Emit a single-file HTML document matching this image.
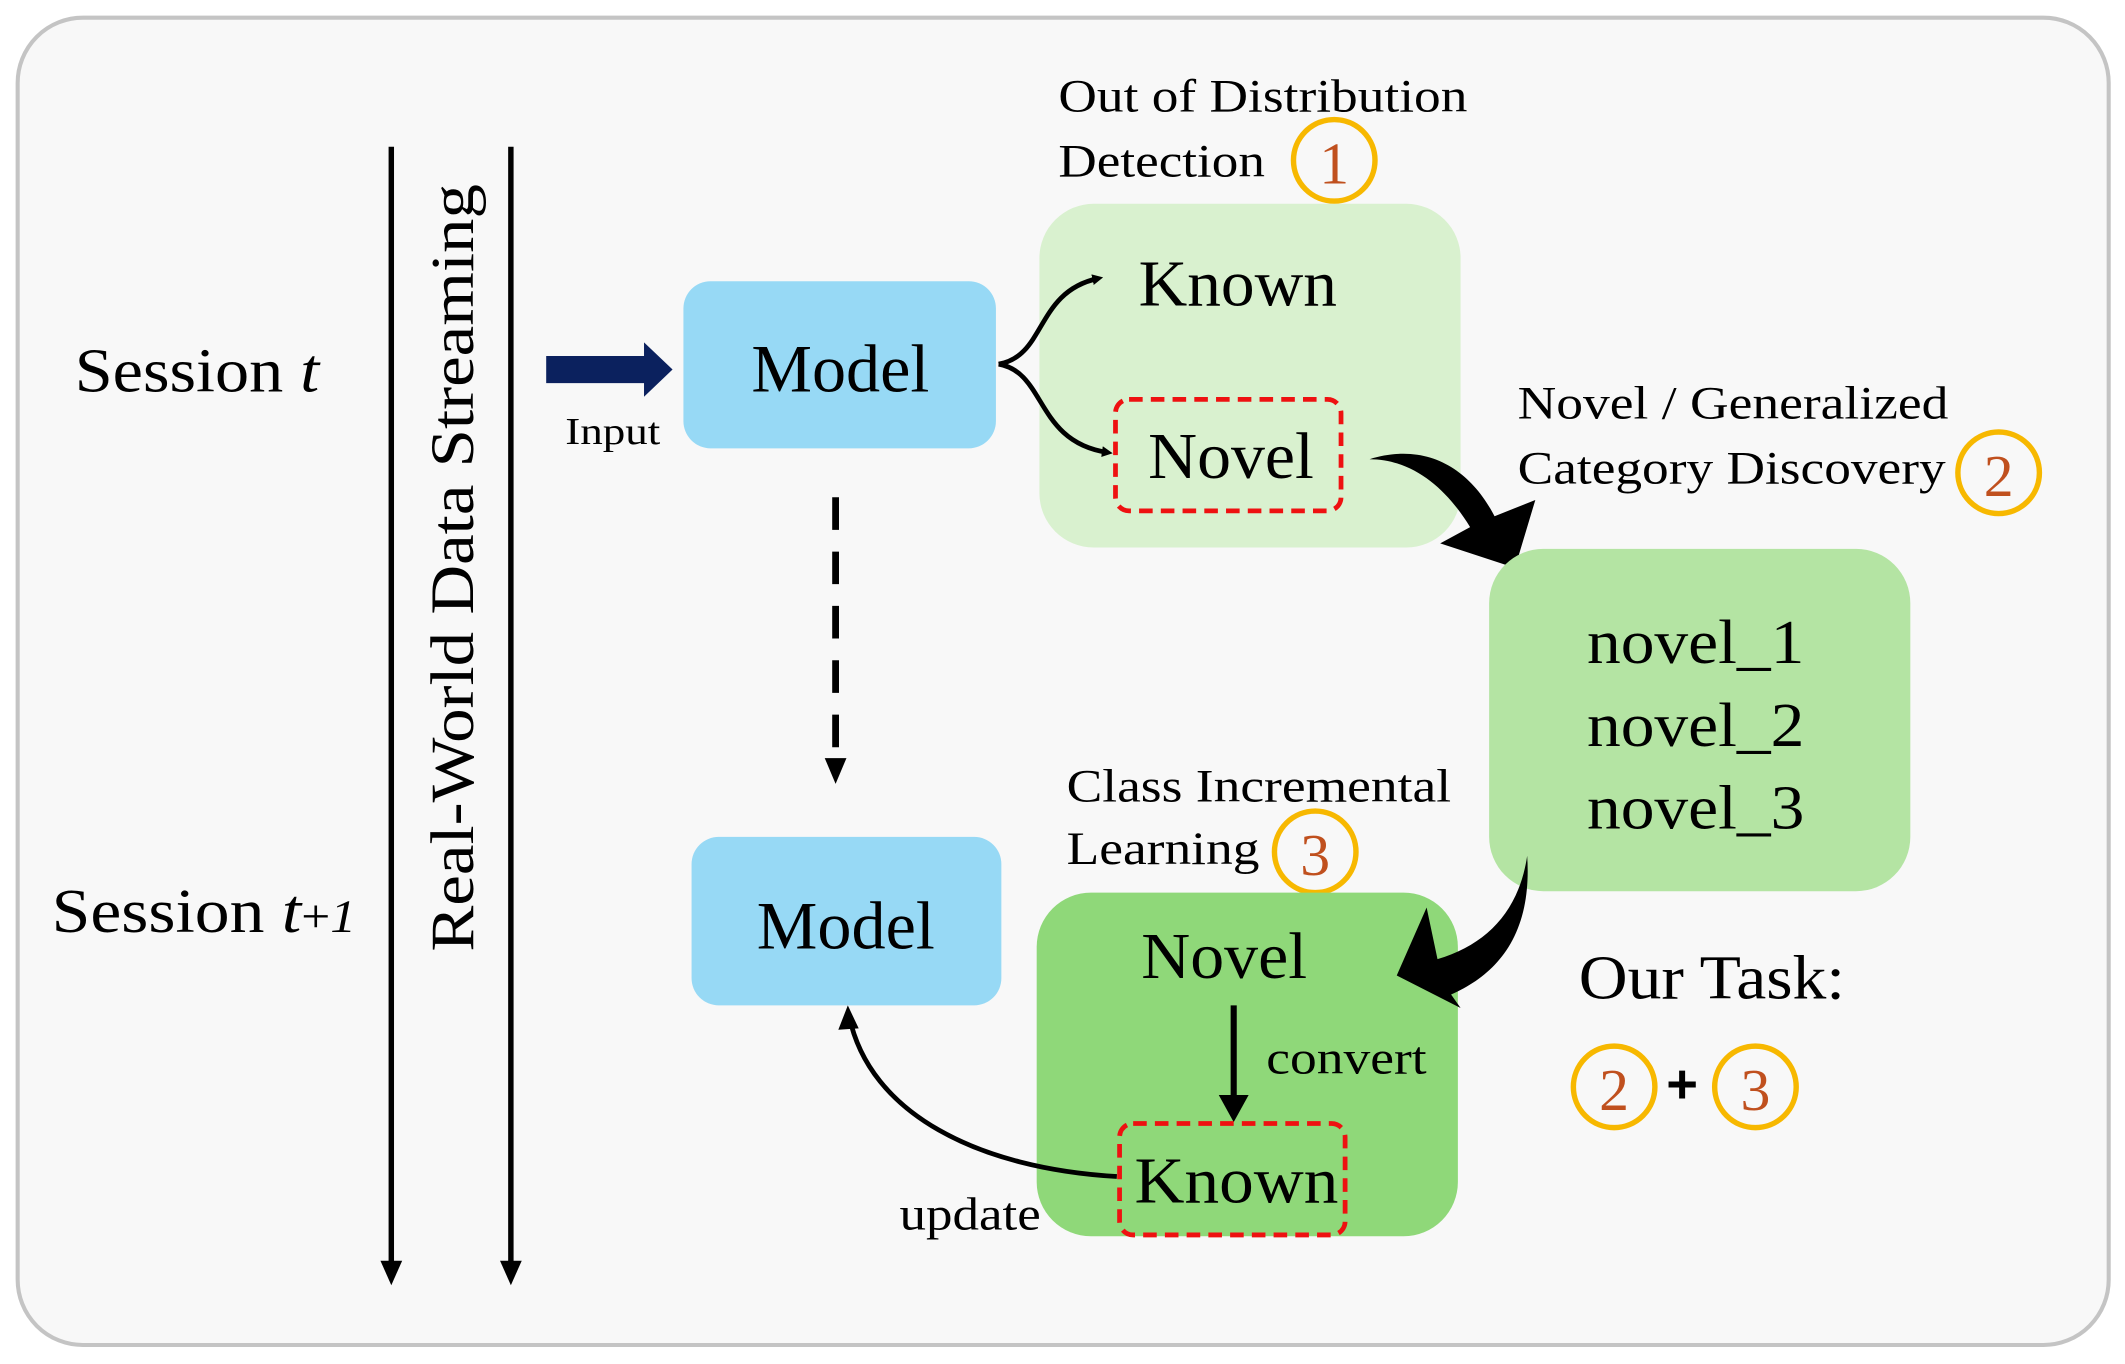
<!DOCTYPE html>
<html><head><meta charset="utf-8"><style>
html,body{margin:0;padding:0;background:#fff;}
svg{display:block;}
text{font-family:"Liberation Serif",serif;fill:#000;}
</style></head><body>
<svg width="2125" height="1364" viewBox="0 0 1564 1004" preserveAspectRatio="none" xmlns="http://www.w3.org/2000/svg">
<defs>
<marker id="ah" markerWidth="8" markerHeight="8" refX="4" refY="4" orient="auto" markerUnits="userSpaceOnUse" viewBox="0 0 8 8"><path d="M0,0 L8,4 L0,8 z" fill="#000"/></marker>
</defs>
<rect x="13" y="13" width="1539" height="977" rx="48" fill="#f8f8f8" stroke="#c4c4c4" stroke-width="3"/>
<line x1="288" y1="108" x2="288" y2="930" stroke="#000" stroke-width="4"/>
<path d="M280,928 L296,928 L288,946 z" fill="#000"/>
<line x1="376" y1="108" x2="376" y2="930" stroke="#000" stroke-width="4"/>
<path d="M368,928 L384,928 L376,946 z" fill="#000"/>
<text transform="translate(348,418) rotate(-90)" font-size="45" text-anchor="middle" textLength="565" lengthAdjust="spacingAndGlyphs">Real-World Data Streaming</text>
<text x="55" y="288" font-size="46" textLength="180" lengthAdjust="spacingAndGlyphs">Session <tspan font-style="italic">t</tspan></text>
<text x="38" y="686" font-size="46" textLength="224" lengthAdjust="spacingAndGlyphs">Session <tspan font-style="italic">t</tspan><tspan font-size="34">+</tspan><tspan font-size="34" font-style="italic">1</tspan></text>
<path d="M402,262 L474,262 L474,252 L495,272 L474,292 L474,282 L402,282 z" fill="#0b215e"/>
<text x="416" y="327" font-size="28" textLength="70" lengthAdjust="spacingAndGlyphs">Input</text>
<rect x="503" y="207" width="230" height="123" rx="20" fill="#97d9f5"/>
<text x="553" y="288" font-size="50" textLength="131" lengthAdjust="spacingAndGlyphs">Model</text>
<rect x="765" y="150" width="310" height="253" rx="40" fill="#d9f1cf"/>
<text x="838" y="225" font-size="48" textLength="146" lengthAdjust="spacingAndGlyphs">Known</text>
<rect x="821" y="294" width="166" height="82" rx="10" fill="none" stroke="#ee1111" stroke-width="3.5" stroke-dasharray="10,6"/>
<text x="845" y="352" font-size="48" textLength="122" lengthAdjust="spacingAndGlyphs">Novel</text>
<path d="M735,268 C770,262 762,215 808,205" fill="none" stroke="#000" stroke-width="3.5" marker-end="url(#ah)"/>
<path d="M735,268 C770,274 762,325 815,333" fill="none" stroke="#000" stroke-width="3.5" marker-end="url(#ah)"/>
<text x="779" y="82" font-size="34" textLength="301" lengthAdjust="spacingAndGlyphs">Out of Distribution</text>
<text x="779" y="130" font-size="34" textLength="152" lengthAdjust="spacingAndGlyphs">Detection</text>
<circle cx="982" cy="118" r="30" fill="none" stroke="#f7b800" stroke-width="4"/>
<text x="982" y="135" font-size="44" text-anchor="middle" style="fill:#c0501e">1</text>
<path d="M1008,338 C1050,325 1082,345 1100,380 L1130,368 L1115,418 L1060,400 L1082,388 C1065,360 1040,338 1008,338 z" fill="#000"/>
<text x="1117" y="308" font-size="34" textLength="317" lengthAdjust="spacingAndGlyphs">Novel / Generalized</text>
<text x="1117" y="356" font-size="34" textLength="315" lengthAdjust="spacingAndGlyphs">Category Discovery</text>
<circle cx="1471" cy="348" r="30" fill="none" stroke="#f7b800" stroke-width="4"/>
<text x="1471" y="365" font-size="44" text-anchor="middle" style="fill:#c0501e">2</text>
<rect x="1096" y="404" width="310" height="252" rx="40" fill="#b4e4a3"/>
<text x="1168" y="488" font-size="46" textLength="160" lengthAdjust="spacingAndGlyphs">novel_1</text>
<text x="1168" y="549" font-size="46" textLength="160" lengthAdjust="spacingAndGlyphs">novel_2</text>
<text x="1168" y="610" font-size="46" textLength="160" lengthAdjust="spacingAndGlyphs">novel_3</text>
<line x1="615" y1="366" x2="615" y2="558" stroke="#000" stroke-width="5" stroke-dasharray="24,16"/>
<path d="M607,558 L623,558 L615,577 z" fill="#000"/>
<rect x="509" y="616" width="228" height="124" rx="20" fill="#97d9f5"/>
<text x="557" y="698" font-size="50" textLength="131" lengthAdjust="spacingAndGlyphs">Model</text>
<text x="785" y="590" font-size="34" textLength="283" lengthAdjust="spacingAndGlyphs">Class Incremental</text>
<text x="785" y="636" font-size="34" textLength="142" lengthAdjust="spacingAndGlyphs">Learning</text>
<circle cx="968" cy="627" r="30" fill="none" stroke="#f7b800" stroke-width="4"/>
<text x="968" y="644" font-size="44" text-anchor="middle" style="fill:#c0501e">3</text>
<rect x="763" y="657" width="310" height="253" rx="40" fill="#8fd879"/>
<path d="M1124,630 C1128,690 1100,718 1068,732 L1075,742 L1028,718 L1050,668 L1058,706 C1095,695 1118,670 1124,630 z" fill="#000"/>
<text x="840" y="720" font-size="48" textLength="122" lengthAdjust="spacingAndGlyphs">Novel</text>
<line x1="908" y1="740" x2="908" y2="808" stroke="#000" stroke-width="4.5"/>
<path d="M897,806 L919,806 L908,826 z" fill="#000"/>
<text x="932" y="790" font-size="34" textLength="118" lengthAdjust="spacingAndGlyphs">convert</text>
<rect x="824" y="827" width="166" height="82" rx="10" fill="none" stroke="#ee1111" stroke-width="3.5" stroke-dasharray="10,6"/>
<text x="835" y="885" font-size="48" textLength="150" lengthAdjust="spacingAndGlyphs">Known</text>
<path d="M822,866 C720,860 640,820 625,748" fill="none" stroke="#000" stroke-width="3.5"/>
<path d="M617,758 L624,740 L632,757 z" fill="#000"/>
<text x="662" y="905" font-size="34" textLength="104" lengthAdjust="spacingAndGlyphs">update</text>
<text x="1162" y="735" font-size="46" textLength="196" lengthAdjust="spacingAndGlyphs">Our Task:</text>
<circle cx="1188" cy="800" r="30" fill="none" stroke="#f7b800" stroke-width="4"/>
<text x="1188" y="817" font-size="44" text-anchor="middle" style="fill:#c0501e">2</text>
<text x="1238" y="812" font-size="40" font-weight="bold" text-anchor="middle" style="font-family:'Liberation Sans',sans-serif">+</text>
<circle cx="1292" cy="800" r="30" fill="none" stroke="#f7b800" stroke-width="4"/>
<text x="1292" y="817" font-size="44" text-anchor="middle" style="fill:#c0501e">3</text>
</svg>
</body></html>
